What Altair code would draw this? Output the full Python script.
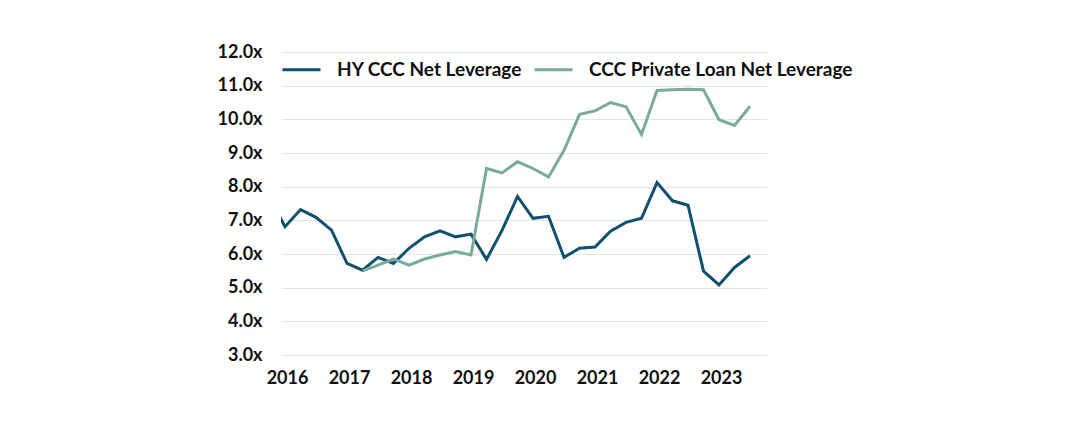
import altair as alt
import pandas as pd

# quarterly observations, 2015Q4 .. 2023Q3
quarters = ["2015Q4",
            "2016Q1", "2016Q2", "2016Q3", "2016Q4",
            "2017Q1", "2017Q2", "2017Q3", "2017Q4",
            "2018Q1", "2018Q2", "2018Q3", "2018Q4",
            "2019Q1", "2019Q2", "2019Q3", "2019Q4",
            "2020Q1", "2020Q2", "2020Q3", "2020Q4",
            "2021Q1", "2021Q2", "2021Q3", "2021Q4",
            "2022Q1", "2022Q2", "2022Q3", "2022Q4",
            "2023Q1", "2023Q2", "2023Q3"]

hy_ccc = [7.70,
          6.81, 7.32, 7.09, 6.71,
          5.72, 5.52, 5.90, 5.72,
          6.17, 6.51, 6.69, 6.51,
          6.59, 5.84, 6.70, 7.71,
          7.06, 7.12, 5.90, 6.17,
          6.21, 6.68, 6.94, 7.06,
          8.12, 7.58, 7.45, 5.49,
          5.08, 5.60, 5.95]

private_ccc = [None,
               None, None, None, None,
               None, 5.50, 5.67, 5.85,
               5.67, 5.85, 5.97, 6.07,
               5.97, 8.54, 8.41, 8.74,
               8.54, 8.29, 9.08, 10.15,
               10.25, 10.50, 10.37, 9.55,
               10.86, 10.88, 10.89, 10.88,
               9.99, 9.82, 10.39]

series_names = ["HY CCC Net Leverage", "CCC Private Loan Net Leverage"]
series_colors = ["#11506f", "#7aab97"]
year_ticks = [2016, 2017, 2018, 2019, 2020, 2021, 2022, 2023]
y_ticks = [3, 4, 5, 6, 7, 8, 9, 10, 11, 12]

rows = []
for q, a, b in zip(quarters, hy_ccc, private_ccc):
    t = int(q[:4]) + (int(q[-1]) - 1) / 4
    rows.append({"t": t, "series": series_names[0], "value": a})
    if b is not None:
        rows.append({"t": t, "series": series_names[1], "value": b})
df = pd.DataFrame(rows)

chart = alt.Chart(df).mark_line(strokeWidth=3, clip=True).encode(
    x=alt.X("t:Q",
            scale=alt.Scale(domain=[2015.935, 2023.774], nice=False, zero=False),
            axis=alt.Axis(title=None, values=year_ticks, format="d", grid=False,
                          domain=False, ticks=False, labelPadding=14, labelOffset=2,
                          labelFlush=False)),
    y=alt.Y("value:Q",
            scale=alt.Scale(domain=[3, 12], nice=False, zero=False),
            axis=alt.Axis(title=None, values=y_ticks, domain=False, ticks=False,
                          labelExpr="format(datum.value, '.1f') + 'x'",
                          labelPadding=19, gridColor="#e4e4e4", gridWidth=1)),
    color=alt.Color("series:N",
                    scale=alt.Scale(domain=series_names, range=series_colors),
                    legend=alt.Legend(orient="none", legendX=0, legendY=-3,
                                      direction="horizontal", title=None,
                                      symbolType="stroke", symbolSize=1444,
                                      symbolStrokeWidth=3, labelFontSize=19,
                                      labelOffset=15, columnPadding=5,
                                      padding=0, labelLimit=400)),
).properties(
    width=486,
    height=303,
    autosize=alt.AutoSizeParams(type="none"),
    padding={"left": 273, "top": 44, "right": 290, "bottom": 70},
).configure(
    font="Lato",
).configure_axis(
    labelFont="Lato",
    labelFontSize=18,
    labelFontWeight="bold",
    labelColor="#111111",
).configure_legend(
    labelFont="Lato",
    labelFontWeight="bold",
    labelColor="#111111",
).configure_view(
    strokeWidth=0,
)

chart.save("out.html", embed_options={"renderer": "svg", "actions": False})
